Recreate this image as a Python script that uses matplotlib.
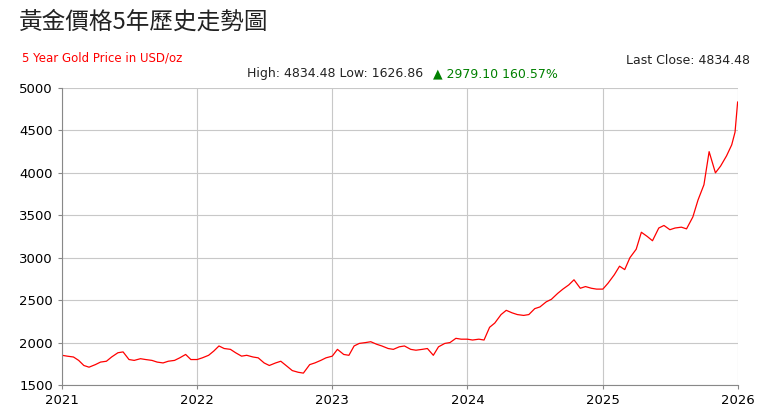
import matplotlib
matplotlib.use("Agg")
import matplotlib.pyplot as plt
import matplotlib.dates as mdates
import pandas as pd

plt.rcParams['font.family'] = ['DejaVu Sans', 'Noto Sans CJK TC']

dates = list(pd.date_range("2021-01-01", "2025-12-16", freq="SMS")) + [pd.Timestamp("2025-12-24"), pd.Timestamp("2025-12-31")]
p2021 = [1850,1840,1830,1790,1730,1710,1740,1770,1780,1830,1880,1890,1800,1790,1810,1800,1790,1770,1760,1780,1790,1820,1860,1800]
p2022 = [1800,1820,1850,1900,1960,1930,1920,1880,1840,1850,1830,1820,1760,1730,1760,1780,1720,1670,1650,1640,1740,1760,1790,1820]
p2023 = [1840,1920,1860,1850,1960,1990,2000,2010,1980,1960,1930,1920,1950,1960,1920,1910,1920,1930,1850,1950,1990,2000,2050,2040]
p2024 = [2040,2030,2040,2030,2180,2230,2330,2380,2350,2330,2320,2330,2400,2420,2480,2510,2580,2630,2680,2740,2640,2660,2640,2630]
p2025 = [2630,2700,2800,2900,2860,3000,3100,3300,3250,3200,3350,3380,3330,3350,3360,3340,3480,3680,3860,4250,4000,4080,4200,4330,4480,4834.48]
prices = p2021 + p2022 + p2023 + p2024 + p2025

fig = plt.figure(figsize=(7.73, 4.16), dpi=100)
ax = fig.add_axes([62/773, 1-385/416, (738-62)/773, (385-88)/416])
ax.plot(dates, prices, color='red', lw=0.9)
ax.set_ylim(1500, 5000)
ax.set_xlim(pd.Timestamp("2021-01-01"), pd.Timestamp("2026-01-01"))
ax.set_yticks(range(1500, 5001, 500))
ax.xaxis.set_major_locator(mdates.YearLocator())
ax.xaxis.set_major_formatter(mdates.DateFormatter("%Y"))
ax.grid(True, color='#c8c8c8', lw=0.8)
for s in ['top', 'right']:
    ax.spines[s].set_visible(False)
ax.spines['left'].set_color('#888'); ax.spines['bottom'].set_color('#888')
ax.tick_params(labelsize=9.5, length=3, color='#888')

fig.text(18/773, 1-22/416, "黃金價格5年歷史走勢圖", fontsize=17, va='center', color='#222', family=['Noto Sans CJK TC', 'DejaVu Sans'])
fig.text(22/773, 1-58/416, "5 Year Gold Price in USD/oz", fontsize=8.5, color='red', va='center')
fig.text(750/773, 1-60/416, "Last Close: 4834.48", fontsize=9, ha='right', va='center', color='#222')
fig.text(247/773, 1-74/416, "High: 4834.48 Low: 1626.86", fontsize=9, va='center', color='#222')
fig.text(433/773, 1-74/416, "▲ 2979.10 160.57%", fontsize=9, va='center', color='green')
fig.savefig("out.png", dpi=100)
